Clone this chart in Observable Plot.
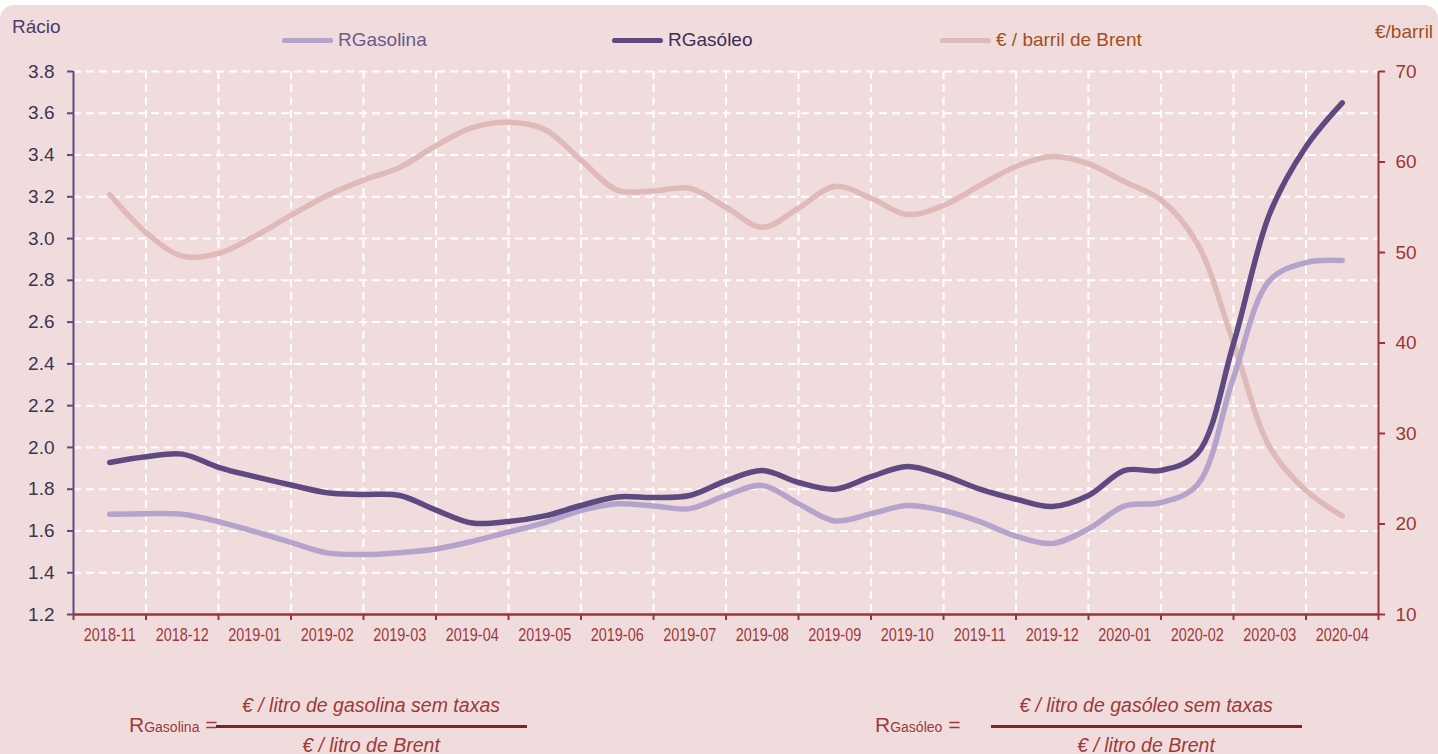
<!DOCTYPE html>
<html>
<head>
<meta charset="utf-8">
<script src="https://cdn.jsdelivr.net/npm/d3@7"></script>
<script src="https://cdn.jsdelivr.net/npm/@observablehq/plot@0.6"></script>
<style>
  html, body { margin: 0; padding: 0; background: #ffffff; }
  body { width: 1438px; height: 754px; overflow: hidden; position: relative; font-family: "Liberation Sans", Arial, sans-serif; }
  #card { position: absolute; left: 0; top: 5px; width: 1438px; height: 780px; background: #f1dcdd; border-radius: 14px; }
  #chart { position: absolute; left: 0; top: 0; }
  .abs { position: absolute; white-space: nowrap; }
  .leg { position: absolute; top: 29px; font-size: 19px; line-height: 22px; white-space: nowrap; }
  .legline { position: absolute; top: 38px; height: 5px; border-radius: 3px; width: 51px; }
  .frac { color: #9b3a3a; }
  .bar { position: absolute; height: 3px; background: #7a2626; }
  .num { position: absolute; font-style: italic; font-size: 19.5px; color: #9b3a3a; transform: translateX(-50%); white-space: nowrap; }
</style>
</head>
<body>
<div id="card"></div>
<div id="chart"></div>
<div class="abs" style="left:12px; top:16px; font-size:19px; color:#4a3d66;">Rácio</div>
<div class="abs" style="left:1375px; top:21px; font-size:19px; color:#a0501e;">€/barril</div>
<div id="legend"></div>

<div class="abs frac" style="left:129px; top:713px; font-size:21px;">R<span style="font-size:14px;">Gasolina</span> =</div>
<div class="bar" style="left:216px; width:311px; top:725px;"></div>
<div class="num" style="left:371px; top:694px;">€ / litro de gasolina sem taxas</div>
<div class="num" style="left:371px; top:734px;">€ / litro de Brent</div>

<div class="abs frac" style="left:875px; top:713px; font-size:21px;">R<span style="font-size:14px;">Gasóleo</span> =</div>
<div class="bar" style="left:991px; width:311px; top:725px;"></div>
<div class="num" style="left:1146px; top:694px;">€ / litro de gasóleo sem taxas</div>
<div class="num" style="left:1146px; top:734px;">€ / litro de Brent</div>

<script>
// ---- data ----
const months = ["2018-11","2018-12","2019-01","2019-02","2019-03","2019-04","2019-05","2019-06","2019-07",
                "2019-08","2019-09","2019-10","2019-11","2019-12","2020-01","2020-02","2020-03","2020-04"];
// values at half-month steps (start of month index 0 … end index 17)
const gasolina = [1.680,1.683,1.680,1.645,1.597,1.545,1.495,1.487,1.496,1.514,1.550,1.595,1.640,1.698,1.730,1.720,
                  1.707,1.770,1.818,1.731,1.648,1.683,1.722,1.698,1.645,1.575,1.540,1.610,1.720,1.736,1.820,2.335,
                  2.800,2.885,2.895];
const gasoleo = [1.928,1.955,1.968,1.905,1.860,1.820,1.783,1.775,1.770,1.700,1.638,1.645,1.672,1.722,1.763,1.760,
                 1.770,1.840,1.890,1.832,1.800,1.860,1.909,1.866,1.800,1.752,1.717,1.770,1.890,1.890,1.970,2.497,
                 3.120,3.440,3.650];
const brent = [56.4,52.2,49.6,49.9,51.8,54.1,56.3,58.0,59.4,61.8,63.8,64.4,63.6,60.2,56.9,56.8,
               57.1,55.0,52.8,54.9,57.3,56.0,54.2,55.2,57.4,59.5,60.6,59.8,57.8,55.8,51.0,40.0,
               28.5,23.7,20.9];
const leftTicks = [1.2,1.4,1.6,1.8,2.0,2.2,2.4,2.6,2.8,3.0,3.2,3.4,3.6,3.8];
const rightTicks = [10,20,30,40,50,60,70];
const seriesNames = ["RGasolina","RGasóleo","€ / barril de Brent"];
const seriesColors = ["#b4a3cb","#5e4a80","#e0b9b9"];
const legendText = ["#6a5a8c","#3b2f55","#a0501e"];
const legendX = [282, 612, 940];

// ---- scales helpers ----
const L0 = 1.2, L1 = 3.8, R0 = 10, R1 = 70;
const toLeft = v => L0 + (v - R0) * (L1 - L0) / (R1 - R0);
const fromLeft = y => R0 + (y - L0) * (R1 - R0) / (L1 - L0);

const rows = (vals, s, f) => vals.map((v, i) => ({x: i / 2, y: f ? f(v) : v, s}));
const dGas = rows(gasolina, "g");
const dDie = rows(gasoleo, "d");
const dBr = rows(brent, "b", toLeft);

const bounds = d3.range(19).map(k => k - 0.5);
const inner = bounds.slice(1, -1);

const chart = Plot.plot({
  width: 1438,
  height: 660,
  marginTop: 71,
  marginLeft: 73,
  marginRight: 60,
  marginBottom: 46,
  style: {background: "transparent", fontFamily: "'Liberation Sans', Arial, sans-serif", fontSize: "19px", overflow: "visible"},
  x: {domain: [-0.5, 17.5], label: null},
  y: {domain: [L0, L1], label: null},
  marks: [
    Plot.gridY(leftTicks.slice(1), {stroke: "#ffffff", strokeOpacity: 1, strokeWidth: 2, strokeDasharray: "8,5"}),
    Plot.gridX(inner, {stroke: "#ffffff", strokeOpacity: 1, strokeWidth: 2, strokeDasharray: "8,5"}),
    Plot.line(dBr, {x: "x", y: "y", curve: "catmull-rom", stroke: seriesColors[2], strokeWidth: 5.5, strokeLinecap: "round"}),
    Plot.line(dGas, {x: "x", y: "y", curve: "catmull-rom", stroke: seriesColors[0], strokeWidth: 5.5, strokeLinecap: "round"}),
    Plot.line(dDie, {x: "x", y: "y", curve: "catmull-rom", stroke: seriesColors[1], strokeWidth: 5.5, strokeLinecap: "round"}),
    Plot.ruleX([-0.5], {stroke: "#5b4a80", strokeWidth: 2}),
    Plot.axisY(leftTicks, {anchor: "left", tickSize: 6, tickPadding: 13, stroke: "#5b4a80", fill: "#3a3550",
      tickFormat: d3.format(".1f"), label: null, strokeWidth: 2}),
    Plot.ruleX([17.5], {stroke: "#9b3535", strokeWidth: 2}),
    Plot.axisY(rightTicks.map(toLeft), {anchor: "right", tickSize: 6, tickPadding: 11, stroke: "#9b3535", fill: "#9b3535",
      tickFormat: d => String(Math.round(fromLeft(d))), label: null, strokeWidth: 2}),
    Plot.ruleY([L0], {stroke: "#9b3535", strokeWidth: 2.5}),
    Plot.axisX(bounds, {anchor: "bottom", tickSize: 6, tickFormat: () => "", stroke: "#9b3535", label: null, strokeWidth: 2}),
    Plot.axisX(d3.range(18), {anchor: "bottom", tickSize: 0, tickPadding: 13, fill: "#9b3a3a",
      tickFormat: i => months[i], label: null, fontSize: 18.5})
  ]
});
document.getElementById("chart").appendChild(chart);

// condense the month labels (the original uses a narrow face)
d3.select(chart).selectAll('g[aria-label="x-axis tick label"] text').each(function () {
  const t = this.getAttribute("transform") || "";
  this.setAttribute("transform", t + " scale(0.78,1)");
});

const leg = document.getElementById("legend");
seriesNames.forEach((n, i) => {
  const ln = document.createElement("div");
  ln.className = "legline";
  ln.style.left = legendX[i] + "px";
  ln.style.background = seriesColors[i];
  leg.appendChild(ln);
  const t = document.createElement("div");
  t.className = "leg";
  t.style.left = (legendX[i] + 56) + "px";
  t.style.color = legendText[i];
  t.textContent = n;
  leg.appendChild(t);
});
</script>
</body>
</html>
